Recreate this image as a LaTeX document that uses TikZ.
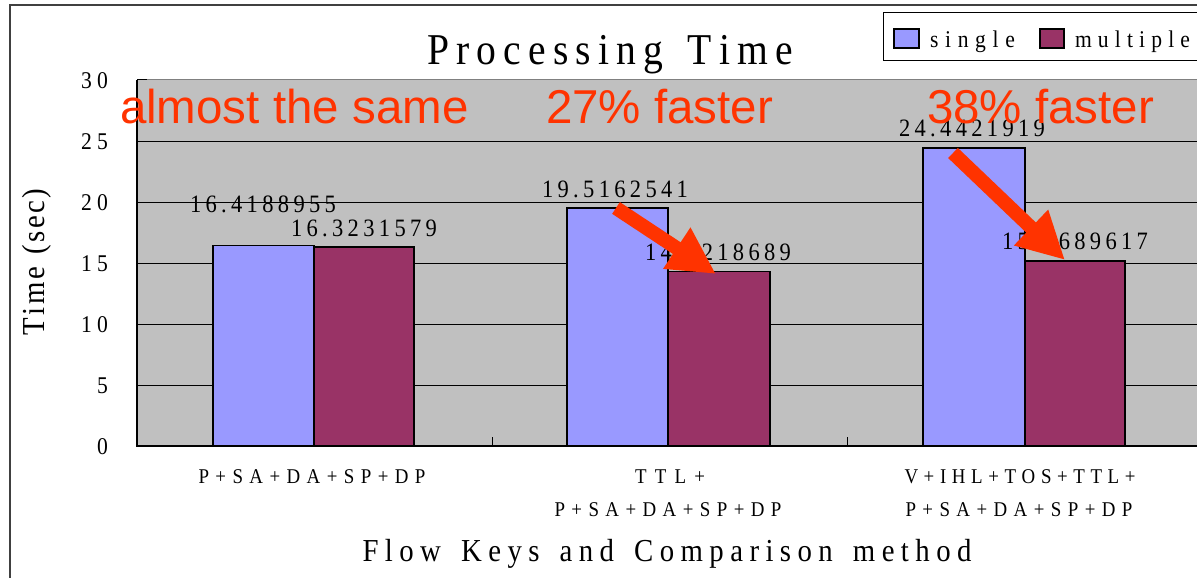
\documentclass[tikz,border=0pt]{standalone}
\usepackage{fontspec}
\setmainfont{Liberation Serif}
\newfontfamily\cf[FakeStretch=0.9]{Liberation Serif}
\newfontfamily\af{Liberation Sans}
\usetikzlibrary{arrows.meta}
\definecolor{plotgray}{HTML}{C0C0C0}
\definecolor{cSingle}{HTML}{9999FF}
\definecolor{cMulti}{HTML}{993366}
\definecolor{annot}{HTML}{FF3300}
\definecolor{framegray}{HTML}{404040}
\def\sprdA#1{#1\sprdB}
\def\sprdB#1{\ifx#1\relax\else\hfill#1\expandafter\sprdB\fi}
\newcommand\spr[2]{\makebox[#1]{\sprdA#2\relax}}
\begin{document}
\begin{tikzpicture}[x=1pt,y=-1pt,
  every node/.style={inner sep=0pt,outer sep=0pt},
  ctitle/.style={font=\cf\fontsize{44}{44}\selectfont,anchor=base},
  ticklbl/.style={font=\cf\fontsize{24}{24}\selectfont,anchor=east},
  vallbl/.style={font=\cf\fontsize{25}{25}\selectfont},
  catlbl/.style={font=\cf\fontsize{21}{21}\selectfont,anchor=base},
  axtitle/.style={font=\cf\fontsize{32}{32}\selectfont},
  leglbl/.style={font=\cf\fontsize{24}{24}\selectfont,anchor=base west},
  notetxt/.style={font=\af\fontsize{47.5}{47.5}\selectfont,text=annot,anchor=base west},
  bigarrow/.style={draw=annot,line width=14pt,-{Triangle[length=47pt,width=46pt]}},
  barS/.style={fill=cSingle,draw=black,line width=1.5pt},
  barM/.style={fill=cMulti,draw=black,line width=1.5pt},
  gridline/.style={draw=black,line width=1pt},
  swatch/.style={draw=black,line width=1.5pt}]
\useasboundingbox (0,0) rectangle (1197,578);
\clip (0,0) rectangle (1197,578);
\fill[white] (0,0) rectangle (1197,578);
% outer frame
\draw[framegray,line width=1.5pt] (10,578) -- (10,5) -- (1200,5);
% plot area
\fill[plotgray] (137,80) rectangle (1200,446);
\draw[gray,line width=1pt] (137,80) -- (1200,80);
\foreach \v in {5,10,15,20,25} {\draw[gridline] (137,{446-12.2*\v}) -- (1200,{446-12.2*\v});}
\foreach \v in {5,10,...,30} {\draw[black,line width=1pt] (137,{446-12.2*\v}) -- (147,{446-12.2*\v});}
% bars
\draw[barS] (213,446) rectangle (314,{446-12.2*16.4188955});
\draw[barM] (314,446) rectangle (414,{446-12.2*16.3231579});
\draw[barS] (567,446) rectangle (668,{446-12.2*19.5162541});
\draw[barM] (668,446) rectangle (770,{446-12.2*14.3218689});
\draw[barS] (923,446) rectangle (1025,{446-12.2*24.4421919});
\draw[barM] (1025,446) rectangle (1125,{446-12.2*15.1689617});
% axes
\draw[black,line width=1.5pt] (137,80) -- (137,446);
\draw[black,line width=2pt] (136.25,446) -- (1200,446);
\draw[black,line width=1pt] (492,446) -- (492,437);
\draw[black,line width=1pt] (847,446) -- (847,437);
% tick labels
\node[ticklbl] (y30) at (108,81) {\spr{27pt}{30}};
\node[ticklbl] (y25) at (108,142) {\spr{27pt}{25}};
\node[ticklbl] (y20) at (108,203) {\spr{27pt}{20}};
\node[ticklbl] (y15) at (108,264) {\spr{27pt}{15}};
\node[ticklbl] (y10) at (108,325) {\spr{27pt}{10}};
\node[ticklbl] (y5) at (108,386) {5};
\node[ticklbl] (y0) at (108,447) {0};
% data labels
\node[vallbl] (v1s) at (263,204) {\spr{146pt}{16.4188955}};
\node[vallbl] (v1m) at (364,228) {\spr{146pt}{16.3231579}};
\node[vallbl] (v2s) at (615,189) {\spr{146pt}{19.5162541}};
\node[vallbl] (v2m) at (718,252) {\spr{146pt}{14.3218689}};
\node[vallbl] (v3s) at (972,128) {\spr{146pt}{24.4421919}};
\node[vallbl] (v3m) at (1075,241) {\spr{146pt}{15.1689617}};
% category labels
\node[catlbl] (c1) at (312,483) {\spr{227pt}{P+SA+DA+SP+DP}};
\node[catlbl] (c2a) at (670,483) {\spr{70pt}{TTL+}};
\node[catlbl] (c2b) at (668,516) {\spr{227pt}{P+SA+DA+SP+DP}};
\node[catlbl] (c3a) at (1020,483) {\spr{231pt}{V+IHL+TOS+TTL+}};
\node[catlbl] (c3b) at (1019,516) {\spr{227pt}{P+SA+DA+SP+DP}};
% titles
\node[ctitle] (title) at (610,65) {\spr{366pt}{Processing~Time}};
\node[axtitle,anchor=base] (xt) at (667,561) {\spr{609pt}{Flow~Keys~and~Comparison~method}};
\node[axtitle,rotate=90] (yt) at (37,262) {\spr{147pt}{Time~(sec)}};
% legend
\draw[black,line width=1pt] (1205,13) -- (883,13) -- (883,61) -- (1205,61);
\draw[swatch,fill=cSingle] (894,29) rectangle (919,48);
\node[leglbl] (ls) at (930,48) {\spr{85pt}{single}};
\draw[swatch,fill=cMulti] (1040,29) rectangle (1064,48);
\node[leglbl] (lm) at (1075,48) {\spr{115pt}{multiple}};
% annotations
\node[notetxt] (n1) at (120,123) {almost the same};
\node[notetxt] (n2) at (546,123) {27\% faster};
\node[notetxt] (n3) at (927,123) {38\% faster};
\coordinate (a1t) at (616,208);
\coordinate (a1h) at (716,274);
\coordinate (a2t) at (953,153);
\coordinate (a2h) at (1065,260);
\draw[bigarrow] (a1t) -- (a1h);
\draw[bigarrow] (a2t) -- (a2h);
\end{tikzpicture}
\end{document}
